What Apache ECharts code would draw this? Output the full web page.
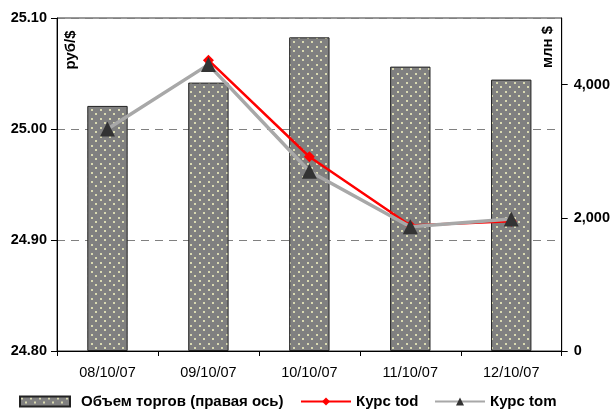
<!DOCTYPE html>
<html>
<head>
<meta charset="utf-8">
<script src="https://cdn.jsdelivr.net/npm/echarts@6/dist/echarts.min.js"></script>
<style>
  html, body { margin: 0; padding: 0; background: #fff; }
  #chart { width: 613px; height: 415px; }
</style>
</head>
<body>
<div id="chart"></div>
<script>
// Trading dates
const dates = ['08/10/07', '09/10/07', '10/10/07', '11/10/07', '12/10/07'];
// Turnover, mln $ (right axis)
const volume = [3680, 4030, 4710, 4270, 4075];
// USD/RUB rate, "today" settlement
const rateTod = [null, 25.062, 24.975, 24.913, 24.917];
// USD/RUB rate, "tomorrow" settlement
const rateTom = [25.000, 25.058, 24.962, 24.912, 24.919];
// Right-axis tick labels
const volumeTicks = [0, 2000, 4000];

const seriesNames = ['Объем торгов (правая ось)', 'Курс tod', 'Курс tom'];

// Gray fill with a staggered grid of pale dots
function dotPattern() {
  const c = document.createElement('canvas');
  c.width = 9; c.height = 9;
  const g = c.getContext('2d');
  g.fillStyle = '#808080';
  g.fillRect(0, 0, 9, 9);
  g.fillStyle = '#d2d2aa';
  g.fillRect(1, 1, 2, 2);
  g.fillRect(5, 5, 2, 2);
  g.fillStyle = '#f4f4cc';
  g.fillRect(1.5, 1.5, 1, 1);
  g.fillRect(5.5, 5.5, 1, 1);
  return c;
}
const barFill = { image: dotPattern(), repeat: 'repeat' };

const font = 'Arial, "Liberation Sans", sans-serif';
const legendText = { fontFamily: font, fontSize: 15, fontWeight: 'bold', color: '#000' };

// One legend block per series so each entry sits in its own slot
function legendAt(name, left, pad, icon) {
  const entry = { name: name };
  if (icon) entry.icon = icon;
  return {
    bottom: 1, left: left,
    itemWidth: 50, itemHeight: 10,
    textStyle: Object.assign({ padding: [0, 0, 0, pad] }, legendText),
    data: [entry]
  };
}

const chart = echarts.init(document.getElementById('chart'), null, { renderer: 'canvas' });

chart.setOption({
  animation: false,
  backgroundColor: '#fff',
  grid: {
    left: 57, right: 50, top: 18, bottom: 64,
    show: true, borderColor: '#333', borderWidth: 1
  },
  legend: [
    legendAt(seriesNames[0], 14, 6, 'rect'),
    legendAt(seriesNames[1], 295, 0),
    legendAt(seriesNames[2], 429, 0)
  ],
  xAxis: {
    type: 'category',
    data: dates,
    boundaryGap: true,
    axisLine: { lineStyle: { color: '#000', width: 1 } },
    axisTick: { show: true, length: 5, lineStyle: { color: '#000' } },
    axisLabel: { fontFamily: font, fontSize: 14.5, color: '#000', margin: 14 }
  },
  yAxis: [
    {
      type: 'value', min: 24.8, max: 25.1, interval: 0.1, position: 'left',
      axisLine: { show: true, lineStyle: { color: '#000' } },
      axisTick: { show: true, length: 6, lineStyle: { color: '#000' } },
      axisLabel: {
        fontFamily: font, fontSize: 14.5, fontWeight: 'bold', color: '#000', margin: 10,
        formatter: v => v.toFixed(2)
      },
      splitLine: { show: true, lineStyle: { color: '#808080', type: [8, 6], width: 1 } }
    },
    {
      type: 'value', min: 0, max: 5000, interval: 1000, position: 'right',
      axisLine: { show: true, lineStyle: { color: '#000' } },
      axisTick: { show: true, length: 6, customValues: volumeTicks, lineStyle: { color: '#000' } },
      axisLabel: {
        fontFamily: font, fontSize: 14.5, fontWeight: 'bold', color: '#000', margin: 12,
        customValues: volumeTicks,
        formatter: v => v.toLocaleString('en-US')
      },
      splitLine: { show: false }
    }
  ],
  series: [
    {
      name: seriesNames[0],
      type: 'bar',
      yAxisIndex: 1,
      data: volume,
      barWidth: '40%',
      itemStyle: { color: barFill, borderColor: '#222', borderWidth: 1 },
      z: 1
    },
    {
      name: seriesNames[1],
      type: 'line',
      yAxisIndex: 0,
      data: rateTod,
      connectNulls: false,
      symbol: 'diamond',
      symbolSize: 11,
      lineStyle: { color: '#ff0000', width: 2.5 },
      itemStyle: { color: '#ff0000' },
      z: 3
    },
    {
      name: seriesNames[2],
      type: 'line',
      yAxisIndex: 0,
      data: rateTom,
      symbol: 'triangle',
      symbolSize: 15,
      lineStyle: { color: '#a8a8a8', width: 3.5 },
      itemStyle: { color: '#333333' },
      z: 4
    }
  ],
  graphic: [
    {
      type: 'text', x: 71, y: 50, rotation: Math.PI / 2,
      style: { text: 'руб/$', font: 'bold 15px ' + font, fill: '#000', align: 'center', verticalAlign: 'middle' }
    },
    {
      type: 'text', x: 548, y: 47, rotation: Math.PI / 2,
      style: { text: 'млн $', font: 'bold 15px ' + font, fill: '#000', align: 'center', verticalAlign: 'middle' }
    }
  ]
});
</script>
</body>
</html>
